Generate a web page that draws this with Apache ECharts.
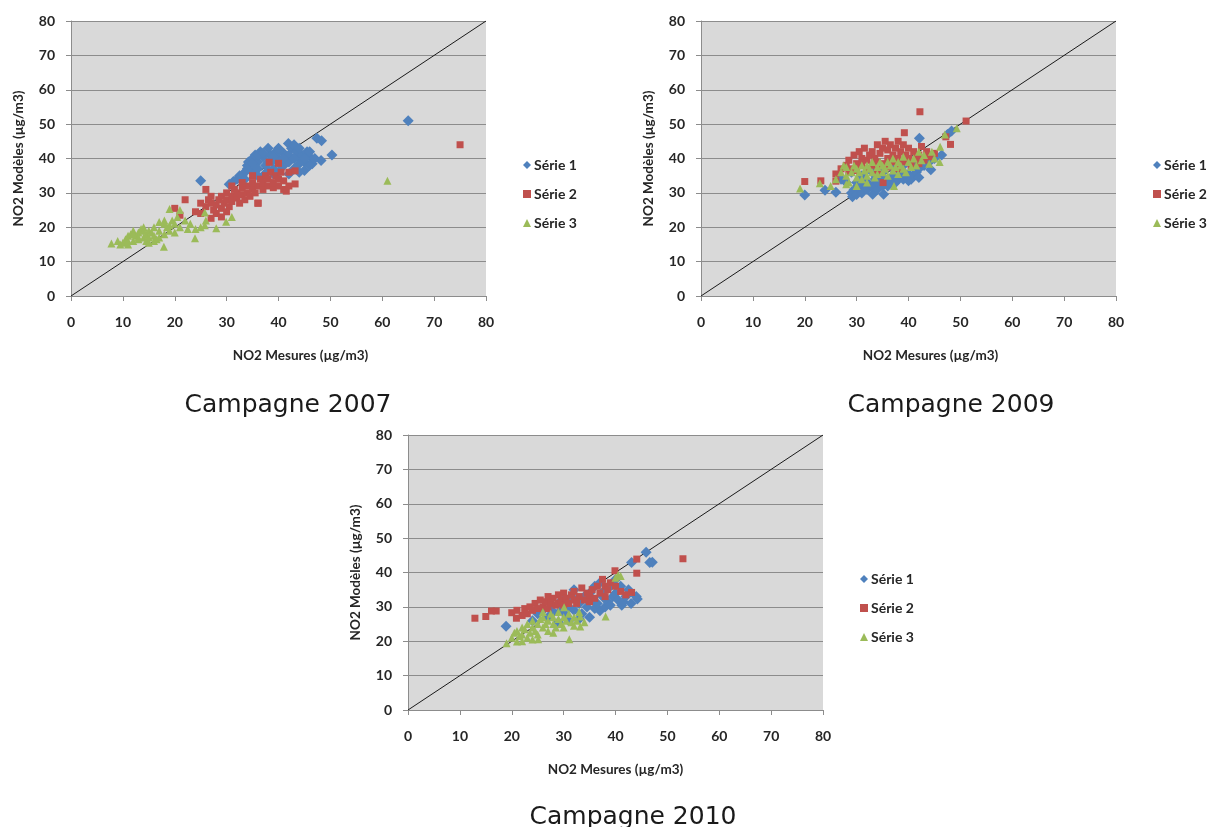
<!DOCTYPE html>
<html>
<head>
<meta charset="utf-8">
<script src="https://cdn.jsdelivr.net/npm/echarts@6/dist/echarts.min.js"></script>
<style>
  html, body { margin: 0; padding: 0; background: #fff; }
  #chart { width: 1211px; height: 827px; }
</style>
</head>
<body>
<div id="chart"></div>
<script>
// NO2: modelled vs measured concentrations (µg/m3), three campaigns
const seriesNames = ['Série 1', 'Série 2', 'Série 3'];
const axisTicks = [0, 10, 20, 30, 40, 50, 60, 70, 80];
const captions = ['Campagne 2007', 'Campagne 2009', 'Campagne 2010'];

// Campagne 2007
const c2007_s1 = [[65,51],[25,33.5],[30.5,32.5],[31.3,33.3],[32,34],[33,35],[33.5,36],[34,38],[34.2,39],[35,40],[35.5,41],[36,39],[36.5,42],[37,40.5],[37.5,38],[38,43],[38.5,41],[39,39.5],[39.5,42],[40,40],[40.5,38],[41,41.5],[41.9,44.4],[42.5,43],[43,44],[43.5,42],[44,40],[44.5,41],[45,39],[45.5,42],[46,40.5],[46.5,38.5],[47.4,45.9],[48.3,45.2],[50.3,41],[48.2,39.4],[47,40],[35,36],[36,37],[37,35],[38,36.5],[39,37],[40,36],[41,38],[42,39],[43,37],[44,38.5],[45,36.5],[46,38],[34,37],[36,41],[38,39],[40,42],[42,41],[44,43],[37,41.5],[39,40.5],[41,40],[43,40],[45,40],[46,42],[35,38.5],[32.5,35],[33.5,34],[42,35.5],[40,43],[36,35],[39,35.5],[44,36]];
const c2007_s2 = [[75,44],[20,25.5],[21,23.5],[22,28],[24,24.5],[25,24],[26,31],[26.5,28],[27,22.6],[27,27],[27.5,25],[28,26.5],[28.5,28],[29,29],[29,25.5],[29.5,27],[30,28],[30,30],[30.5,26],[31,29],[31,27.5],[31.5,31],[32,28.5],[32,30],[32.5,27],[33,29.5],[33,31.5],[33.5,28],[34,30],[34,32],[34.5,29],[35,31],[35,33],[35.5,30],[36,27],[36,32],[36.5,34],[37,31],[37,33],[37.5,35],[38,32],[38.2,38.9],[38,34],[38.5,36],[39,31.5],[39,33],[39.5,35],[40,38.6],[40,32],[40,34],[40.5,36],[41,31],[41,33.5],[41.5,30.5],[42,32],[42,36],[43.2,32.6],[43.2,36.4],[36.1,27],[28,24],[29,23],[30,24.5],[26,26],[25,27],[33,33],[35,35],[31,32],[27,29]];
const c2007_s3 = [[61,33.5],[7.8,15.3],[9,16],[9.5,15],[10,15.5],[10.5,16.5],[11,15],[11,17.5],[11.5,18],[12,16],[12,19],[12.5,17.5],[13,18.5],[13,16.5],[13.5,19.5],[14,17],[14,20],[14.5,18],[14.5,16],[15,19],[15,17],[15.5,18.5],[16,17.5],[16,20],[16.5,16.5],[17,19],[17,21.5],[17.9,14.3],[18,18],[18,21],[18.5,20],[19,25.3],[19,19],[19.5,22],[20,21],[20,18.5],[20.5,23],[21,25],[21,20],[22,22],[22.5,19.5],[23,21],[23.9,16.8],[24,19.5],[25,20],[25.8,24.3],[25.8,20.6],[26,22],[28,19.7],[29.9,21.6],[31,23],[16,16],[15,15.5],[13,17],[12,18],[17,17],[18,22],[19,20.5],[14,19],[11,16]];

// Campagne 2009
const c2009_s1 = [[20,29.4],[23.9,30.8],[26,30.2],[29.2,28.9],[29,30],[29.5,31],[30,29.5],[30,33],[30.5,31.5],[31,32],[31,30],[31.5,34],[32,31],[32,33],[33.1,29.6],[33,32],[33.5,34],[34,31],[34,33],[34.5,35],[35.2,29.6],[35,32],[35.5,33.5],[36,32],[36,34],[36.5,33],[37,35],[37.5,33],[38,34],[38.5,36],[39,34],[39,36],[39.5,35],[40,33.5],[40,35.5],[40.5,34],[41,35],[41.5,36],[42,37],[42,34.5],[43,38],[44.3,36.7],[44,39],[45,40],[46.4,41],[42.1,45.9],[48.3,48],[47.5,47],[28,33],[27,34],[29,36],[31,35],[33,36],[35,36],[37,37],[39,38],[41,39],[43,40]];
const c2009_s2 = [[42.2,53.6],[51.1,50.9],[47.2,46.3],[48.1,44.1],[20,33.3],[23.1,33.5],[26,33.4],[26,35.5],[35.1,33],[39.2,47.5],[28,38],[28.5,39.5],[29,37],[29.5,41],[30,38.5],[30.5,42],[31,40],[31,38],[31.5,43],[32,39.5],[32.5,41],[33,38],[33,42],[33.5,40],[34,44],[34,39],[34.5,41.5],[35,43],[35,38.5],[35.5,45],[36,40],[36,42.5],[36.5,44],[37,39],[37,41],[37.5,43],[38,45],[38,40],[38.5,42],[39,39],[39,44],[39.5,41],[40,43],[40,40],[40.5,38],[41,42],[41.5,40],[42,41],[42.5,43.5],[43,39.5],[43.5,42],[44,40.5],[45,41.5],[27,37],[30,36.5],[32,37],[34,36.5],[36,37.5],[38,37],[40,39],[42,38.5],[28.5,36]];
const c2009_s3 = [[19.1,31.3],[22.9,32.8],[37.2,32],[49.3,48.8],[46.1,43.4],[25,32],[26,34],[27,36],[27.5,38],[28,35],[28,37.5],[28.5,33],[29,36],[29.5,38],[30,34.5],[30,37],[30.5,36],[31,38],[31,34],[31.5,36.5],[32,35],[32,38],[32.5,37],[33,36],[33,39],[33.5,34.5],[34,37.5],[34,35.5],[34.5,39],[35,36],[35,38],[35.5,37],[36,39],[36,35],[36.5,38],[37,36.5],[37,40],[37.5,37.5],[38,39],[38,35.5],[38.5,38],[39,37],[39,40.5],[39.5,36],[40,39],[40.5,37.5],[41,40],[41.5,38],[42,42],[42.5,39.5],[43,41],[44,38.5],[44.5,42],[45,40],[46,39],[47,47],[30,32],[32,33],[28,32.5]];

// Campagne 2010
const c2010_s1 = [[18.9,24.4],[45.9,45.9],[43.1,42.9],[46.6,42.9],[44.2,32.3],[41.2,30.5],[37,28.9],[25,28],[26,29],[27,27],[27.5,30],[28,28.5],[29,31],[29.5,29],[30,32],[30.5,27.5],[31,30],[31.5,33],[32,29],[32,35],[33,31],[33.5,28],[34,33],[34.5,30],[35,34],[35.5,32],[36,36],[36,29.5],[36.5,31],[37,37],[37.5,33],[38,35],[38,30],[38.5,31.5],[39,36],[39.5,33],[40,38],[40,34],[40.5,32],[41,36],[41.5,31.5],[42,33],[42.5,35],[43,31],[47.1,43],[44,33],[39,30.5],[31,26],[29,25.5],[33,26.5],[35,27],[24,26]];
const c2010_s2 = [[12.9,26.7],[15,27.2],[16.1,28.8],[17,28.8],[20,28.3],[20.9,26.7],[53,44],[44.1,43.9],[44.1,39.8],[43.1,34.2],[39.9,40.5],[21,29],[22,27.5],[22.5,29.5],[23,28],[23.5,30],[24,29],[24.5,31],[25,29.5],[25.5,32],[26,30],[26.5,31.5],[27,33],[27,29.5],[27.5,31],[28,32.5],[28.5,30.5],[29,33.5],[29,31],[29.5,32],[30,30.5],[30,34],[30.5,32.5],[31,31],[31.5,33.5],[32,32],[32,34.5],[32.5,31],[33,33],[33.5,35.5],[34,32],[34.5,34],[35,33],[35,31.5],[35.5,35],[36,32.5],[36.5,36],[37,34],[37.5,38],[38,33],[38,36],[38.5,35],[39,37],[40,36],[41,34.5],[42,33.5]];
const c2010_s3 = [[19,19.4],[21,19.9],[25.1,20.6],[31.1,20.6],[38.1,27.2],[40.5,39.3],[33.2,27.2],[33.2,24.3],[30.1,29.9],[20,21],[20.5,22.5],[21,23],[21.5,21.5],[22,24],[22,22],[22.5,23.5],[23,25],[23,21],[23.5,22.5],[24,24],[24,26],[24.5,23],[25,25],[25,22],[25.5,26.5],[26,24],[26,27],[26.5,25],[27,23],[27,26],[27.5,28],[28,25],[28,27],[28.5,24],[29,26.5],[29,28.5],[29.5,25],[30,27],[30,24],[30.5,26],[31,28],[31.5,25.5],[32,27],[32,24.5],[32.5,26],[33,28.5],[34,25.5],[26,28.5],[28,22.5],[24,20.5],[22,20],[41,39],[40,38.5]];

// 1:1 reference line
const identityLine = [[0, 0], [80, 80]];

const campaigns = [
  [c2007_s1, c2007_s2, c2007_s3],
  [c2009_s1, c2009_s2, c2009_s3],
  [c2010_s1, c2010_s2, c2010_s3]
];

const colors = ['#4F81BD', '#C0504D', '#9BBB59'];
const symbols = ['diamond', 'rect', 'triangle'];
const symbolSizes = [11, 7, 8];

// panel placement; xNameShift moves the x-axis title right of centre
const panels = [
  { left: 71, top: 21, legendLeft: 518, legendTop: 152, capX: 283, capY: 400, xNameShift: 22 },
  { left: 701, top: 21, legendLeft: 1148, legendTop: 152, capX: 946, capY: 400, xNameShift: 22 },
  { left: 408, top: 435, legendLeft: 855, legendTop: 566, capX: 628, capY: 812, xNameShift: 0 }
];

const tickFont = { fontFamily: 'Lato', fontWeight: 'bold', fontSize: 14, color: '#262626' };
const nameFont = { fontFamily: 'Lato', fontWeight: 'bold', fontSize: 13.5, color: '#262626' };
const gridColor = '#8C8C8C';

const option = {
  animation: false,
  backgroundColor: '#ffffff',
  grid: panels.map(p => ({
    left: p.left, top: p.top, width: 415, height: 275,
    show: true, backgroundColor: '#D9D9D9', borderWidth: 0
  })),
  xAxis: panels.map((p, i) => ({
    gridIndex: i, type: 'value', min: 0, max: 80, interval: 10,
    name: 'NO2 Mesures (µg/m3)', nameLocation: 'middle', nameGap: 53,
    nameTextStyle: Object.assign({ padding: [0, 0, 0, p.xNameShift * 2] }, nameFont),
    axisLine: { show: true, lineStyle: { color: gridColor } },
    axisTick: { show: true, length: 5, lineStyle: { color: gridColor } },
    axisLabel: Object.assign({ margin: 19, formatter: v => axisTicks.includes(v) ? String(v) : '' }, tickFont),
    splitLine: { show: false }
  })),
  yAxis: panels.map((p, i) => ({
    gridIndex: i, type: 'value', min: 0, max: 80, interval: 10,
    name: 'NO2 Modèles (µg/m3)', nameLocation: 'middle', nameGap: 45,
    nameTextStyle: nameFont,
    axisLine: { show: true, lineStyle: { color: gridColor } },
    axisTick: { show: true, length: 5, lineStyle: { color: gridColor } },
    axisLabel: Object.assign({ margin: 16, formatter: v => axisTicks.includes(v) ? String(v) : '' }, tickFont),
    splitLine: { show: true, lineStyle: { color: gridColor, width: 1 } }
  })),
  legend: panels.map(p => ({
    left: p.legendLeft, top: p.legendTop, orient: 'vertical',
    itemWidth: 8, itemHeight: 8, itemGap: 13,
    data: seriesNames.map((n, k) => ({ name: n, icon: symbols[k] })),
    textStyle: { fontFamily: 'Lato', fontWeight: 'bold', fontSize: 14, color: '#262626', lineHeight: 16, padding: [0, 0, 0, -2] },
    selectedMode: false
  })),
  title: panels.map((p, i) => ({
    text: captions[i], left: p.capX, top: p.capY, textAlign: 'center', textVerticalAlign: 'middle',
    textStyle: { fontFamily: 'DejaVu Sans', fontWeight: 'normal', fontSize: 25, color: '#1a1a1a' }
  })),
  series: []
};

campaigns.forEach((sets, i) => {
  option.series.push({
    type: 'line', xAxisIndex: i, yAxisIndex: i, data: identityLine,
    symbol: 'none', silent: true, z: 1,
    lineStyle: { color: '#1a1a1a', width: 1 }
  });
  sets.forEach((pts, k) => {
    option.series.push({
      name: seriesNames[k], type: 'scatter', xAxisIndex: i, yAxisIndex: i,
      data: pts, symbol: symbols[k], symbolSize: symbolSizes[k],
      itemStyle: { color: colors[k], opacity: 1 }, z: 2 + k
    });
  });
});

const chart = echarts.init(document.getElementById('chart'), null, { renderer: 'canvas' });
chart.setOption(option);
</script>
</body>
</html>
